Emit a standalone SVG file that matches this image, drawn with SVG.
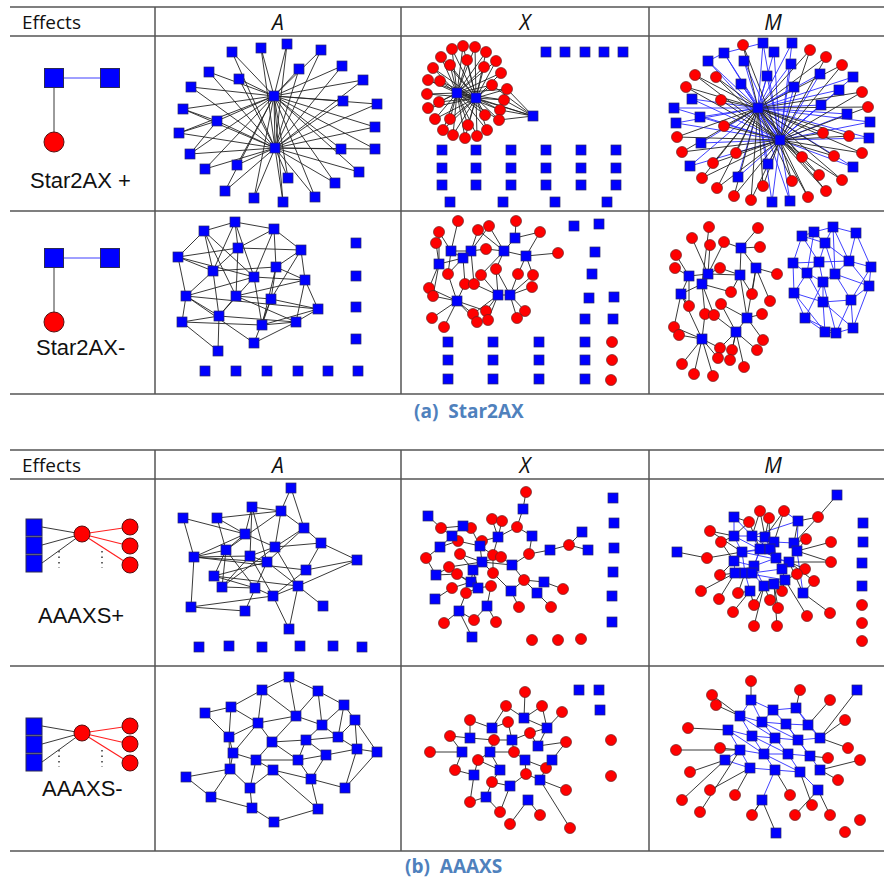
<svg xmlns="http://www.w3.org/2000/svg" width="884" height="881" viewBox="0 0 884 881">
<style>
.grid{stroke:#555;stroke-width:1.5;fill:none}
.hdr{font-family:"Open Sans","Liberation Sans",sans-serif;font-size:19px;fill:#111}
.col{font-family:"Open Sans","Liberation Sans",sans-serif;font-size:21px;font-style:italic;fill:#111}
.lbl{font-family:"Liberation Sans",Arial,sans-serif;font-size:22px;fill:#111}
.cap{font-family:"Open Sans","Liberation Sans",sans-serif;font-size:19px;font-weight:bold;fill:#4f81bd}
.k{stroke:#222;stroke-width:0.9;fill:none}
.b{stroke:#2b2bff;stroke-width:0.9;fill:none}
.r{stroke:#ff2020;stroke-width:1.2;fill:none}
.bs{fill:#0000ff;stroke:#2a2a55;stroke-width:1}
.rc{fill:#ff0000;stroke:#551111;stroke-width:1}
</style>
<defs>
<rect id="s" x="-5" y="-5" width="10" height="10" fill="#0000ff" stroke="#2a2a66" stroke-width="0.7"/>
<circle id="c" r="5.5" fill="#ff0000" stroke="#662222" stroke-width="0.7"/>
</defs>
<rect width="884" height="881" fill="#fff"/>

<g id="table-a" class="grid">
<path d="M10 7H884M10 36H884M10 211H884M10 394H884M155 7V394M401 7V394M649 7V394"/>
</g>
<g id="table-b" class="grid">
<path d="M10 450H884M10 479H884M10 666H884M10 851H884M155 450V851M401 450V851M649 450V851"/>
</g>

<g id="headers">
<text class="hdr" x="22" y="29">Effects</text>
<text class="col" x="278" y="30" text-anchor="middle">A</text>
<text class="col" x="525" y="30" text-anchor="middle">X</text>
<text class="col" x="773" y="30" text-anchor="middle">M</text>
<text class="hdr" x="22" y="472">Effects</text>
<text class="col" x="278" y="473" text-anchor="middle">A</text>
<text class="col" x="525" y="473" text-anchor="middle">X</text>
<text class="col" x="773" y="473" text-anchor="middle">M</text>
<text class="cap" x="414" y="418">(a)&#160; Star2AX</text>
<text class="cap" x="405" y="873">(b)&#160; AAAXS</text>
</g>

<g id="legend-star2ax-plus">
<path class="b" d="M54 78H110" stroke-width="1.3"/>
<path class="k" d="M54 78V142" stroke-width="1.2"/>
<rect class="bs" x="44.5" y="68.5" width="19" height="19"/>
<rect class="bs" x="100.5" y="68.5" width="19" height="19"/>
<circle class="rc" cx="54" cy="142" r="10"/>
<text class="lbl" x="30" y="188">Star2AX +</text>
</g>
<g id="legend-star2ax-minus">
<path class="b" d="M54 258H110" stroke-width="1.3"/>
<path class="k" d="M54 258V322" stroke-width="1.2"/>
<rect class="bs" x="44.5" y="248.5" width="19" height="19"/>
<rect class="bs" x="100.5" y="248.5" width="19" height="19"/>
<circle class="rc" cx="54" cy="322" r="10"/>
<text class="lbl" x="36" y="355">Star2AX-</text>
</g>
<g id="legend-aaaxs-plus">
<path class="k" d="M42 527L82 534M42 545L82 534M42 563L82 534" stroke-width="1.1"/>
<path class="r" d="M82 534L130 527M82 534L130 546M82 534L130 565"/>
<path d="M59 551V568M102 551V568" stroke="#333" stroke-width="1.5" stroke-dasharray="1.5 4"/>
<rect class="bs" x="26" y="519" width="16" height="17"/>
<rect class="bs" x="26" y="537" width="16" height="17"/>
<rect class="bs" x="26" y="555" width="16" height="17"/>
<circle class="rc" cx="82" cy="534" r="8"/>
<circle class="rc" cx="130" cy="527" r="8"/>
<circle class="rc" cx="130" cy="546" r="8"/>
<circle class="rc" cx="130" cy="565" r="8"/>
<text class="lbl" x="38" y="623">AAAXS+</text>
</g>
<g id="legend-aaaxs-minus">
<path class="k" d="M42 726L82 733M42 744L82 733M42 762L82 733" stroke-width="1.1"/>
<path class="r" d="M82 733L130 726M82 733L130 744M82 733L130 763"/>
<path d="M59 750V767M102 750V767" stroke="#333" stroke-width="1.5" stroke-dasharray="1.5 4"/>
<rect class="bs" x="26" y="718" width="16" height="17"/>
<rect class="bs" x="26" y="736" width="16" height="17"/>
<rect class="bs" x="26" y="754" width="16" height="17"/>
<circle class="rc" cx="82" cy="733" r="8"/>
<circle class="rc" cx="130" cy="726" r="8"/>
<circle class="rc" cx="130" cy="744" r="8"/>
<circle class="rc" cx="130" cy="763" r="8"/>
<text class="lbl" x="42" y="796">AAAXS-</text>
</g>

<g id="connectors">
<path class="k" d="M274 96L275 148M274 96L232 52L275 148M274 96L261 48L275 148M274 96L287 44L275 148M274 96L321 50L275 148M274 96L342 66L275 148M274 96L299 69L275 148M274 96L363 80L275 148M274 96L209 72L275 148M274 96L239 79L275 148M274 96L191 87L275 148M274 96L343 101L275 148M274 96L377 104L275 148M274 96L183 109L275 148M274 96L217 121L275 148M274 96L375 127L275 148M274 96L179 133L275 148M274 96L190 154L275 148M274 96L341 149L275 148M274 96L375 149L275 148M274 96L205 169L275 148M274 96L237 165L275 148M274 96L288 178L275 148M274 96L359 172L275 148M274 96L335 183L275 148M274 96L225 191L275 148M274 96L254 198L275 148M274 96L283 202L275 148M274 96L315 197L275 148M217 121L183 109M217 121L179 133M217 121L190 154"/>
<path class="k" d="M457 93L476 98M457 93L452 49L476 98M457 93L463 46L476 98M457 93L475 47L476 98M457 93L486 52L476 98M457 93L441 57L476 98M457 93L467 60L476 98M457 93L496 61L476 98M457 93L433 68L476 98M457 93L450 65L476 98M457 93L484 67L476 98M457 93L501 73L476 98M457 93L428 80L476 98M457 93L440 81L476 98M457 93L492 85L476 98M457 93L507 89L476 98M457 93L427 94L476 98M457 93L439 102L476 98M457 93L504 100L476 98M457 93L428 108L476 98M457 93L500 110L476 98M457 93L435 119L476 98M457 93L450 119L476 98M457 93L485 115L476 98M457 93L499 120L476 98M457 93L443 130L476 98M457 93L468 125L476 98M457 93L487 130L476 98M457 93L453 135L476 98M457 93L465 138L476 98M457 93L477 136L476 98M533 116L507 89M533 116L504 100M533 116L500 110M533 116L499 120M533 116L492 85M533 116L476 98M533 116L457 93"/>
<path class="b" d="M758 108L780 140M758 108L763 43L780 140M758 108L792 43L780 140M758 108L724 53L780 140M758 108L774 52L780 140M758 108L708 61L780 140M758 108L744 61L780 140M758 108L791 64L780 140M758 108L767 76L780 140M758 108L820 74L780 140M758 108L741 84L780 140M758 108L794 87L780 140M758 108L853 77L780 140M758 108L839 90L780 140M758 108L692 99L780 140M758 108L821 105L780 140M758 108L674 108L780 140M758 108L847 114L780 140M758 108L700 117L780 140M758 108L676 123L780 140M758 108L870 122L780 140M758 108L869 138L780 140M758 108L701 143L780 140M758 108L690 166L780 140M758 108L853 167L780 140M758 108L768 164L780 140M758 108L738 177L780 140M758 108L772 202L780 140M758 108L790 201L780 140M724 53L763 43M708 61L724 53"/>
<path class="k" d="M758 108L743 45L780 140M758 108L810 50L780 140M758 108L826 57L780 140M758 108L842 65L780 140M758 108L695 75L780 140M758 108L716 77L780 140M758 108L686 87L780 140M758 108L862 92L780 140M758 108L721 100L780 140M758 108L868 107L780 140M758 108L724 126L780 140M758 108L677 137L780 140M758 108L823 133L780 140M758 108L849 136L780 140M758 108L682 152L780 140M758 108L736 153L780 140M758 108L802 157L780 140M758 108L834 156L780 140M758 108L862 153L780 140M758 108L713 163L780 140M758 108L702 178L780 140M758 108L792 181L780 140M758 108L819 175L780 140M758 108L842 180L780 140M758 108L717 188L780 140M758 108L763 186L780 140M758 108L734 196L780 140M758 108L751 200L780 140M758 108L808 197L780 140M758 108L826 191L780 140"/>
<path class="k" d="M204 231L235 222M204 231L178 257M204 231L213 271M204 231L254 277M204 231L236 296M235 222L274 229M235 222L238 248M235 222L213 271M235 222L254 277M274 229L301 250M274 229L276 267M274 229L254 277M178 257L238 248M178 257L254 277M178 257L186 296M178 257L213 271M238 248L301 250M238 248L186 296M238 248L236 296M301 250L276 267M301 250L305 280M301 250L271 299M213 271L219 316M213 271L276 267M276 267L271 299M276 267L262 325M276 267L305 280M254 277L305 280M254 277L186 296M254 277L262 325M254 277L219 316M305 280L318 309M305 280L296 322M305 280L236 296M186 296L182 322M186 296L219 316M186 296L318 309M186 296L254 343M236 296L219 316M236 296L271 299M236 296L296 322M271 299L318 309M271 299L262 325M271 299L254 343M318 309L262 325M318 309L296 322M182 322L219 316M182 322L218 351M182 322L262 325M219 316L218 351M219 316L296 322M262 325L296 322M296 322L254 343M274 229L238 248"/>
<path class="k" d="M458 221L451 251M439 232L451 251M436 243L439 264M451 251L471 251M451 251L463 258M463 258L439 264M471 251L478 230M471 251L486 249M471 251L489 226M463 258L448 274M489 226L504 251M478 230L504 251M504 251L486 249M504 251L515 238M515 238L516 221M515 238L540 232M540 232L526 256M526 256L558 253M504 251L526 256M526 256L518 274M526 256L533 275M504 251L496 269M504 251L481 275M439 264L429 288M439 264L433 296M463 258L465 284M471 251L474 284M451 251L448 274M448 274L457 301M429 288L457 301M433 296L457 301M457 301L432 318M457 301L444 327M457 301L473 314M457 301L477 322M457 301L465 284M457 301L486 311M498 295L481 275M498 295L496 269M498 295L474 284M498 295L473 314M498 295L486 311M498 295L488 320M498 295L510 295M510 295L518 274M510 295L532 287M510 295L517 318M510 295L525 311M510 295L533 275M510 295L496 269M439 232L439 264M463 258L471 251"/>
<path class="k" d="M741 248L758 228M741 248L724 242M741 248L760 247M741 248L740 275M741 248L756 268M708 274L710 245M708 274L692 238M708 274L720 268M708 274L689 276M708 274L702 284M708 274L740 275M689 276L676 255M689 276L675 268M689 276L681 294M689 276L689 306M702 284L681 294M702 284L731 292M702 284L705 314M702 284L714 315M740 275L720 268M740 275L731 292M740 275L752 294M756 268L777 274M756 268L752 294M756 268L770 301M756 268L747 318M681 294L689 306M681 294L674 327M681 294L702 339M747 318L721 304M747 318L762 314M747 318L763 340M747 318L736 332M736 332L721 304M736 332L714 315M736 332L720 348M736 332L732 350M736 332L757 350M736 332L744 367M702 339L674 327M702 339L679 335M702 339L705 314M702 339L720 348M702 339L682 364M702 339L694 374M702 339L718 358M702 339L713 376M736 332L730 360M708 274L724 242M702 284L709 227M740 275L747 318"/>
<path class="b" d="M802 236L814 232M814 232L833 227M833 227L856 233M802 236L825 243M814 232L825 243M833 227L825 243M856 233L849 261M833 227L849 261M802 236L793 263M793 263L807 273M793 263L819 262M825 243L819 262M825 243L835 274M819 262L807 273M819 262L823 282M819 262L849 261M849 261L871 267M849 261L835 274M871 267L869 286M871 267L851 300M807 273L794 293M807 273L823 282M835 274L823 282M835 274L869 286M835 274L851 300M823 282L823 302M823 282L805 318M869 286L851 300M869 286L853 328M794 293L805 318M794 293L823 302M823 302L825 332M823 302L851 300M851 300L836 333M851 300L853 328M805 318L825 332M825 332L836 333M836 333L853 328M823 302L853 328M793 263L794 293M825 243L849 261M802 236L819 262M856 233L871 267M814 232L807 273M833 227L835 274M823 282L836 333M794 293L825 332M807 273L823 302M849 261L869 286M805 318L836 333"/>
<path class="k" d="M291 488L281 511M291 488L304 528M183 518L245 534M183 518L194 557M217 518L245 534M217 518L281 511M217 518L226 550M252 507L281 511M252 507L245 534M252 507L250 556M252 507L267 562M281 511L304 528M281 511L275 547M281 511L226 550M304 528L321 543M304 528L275 547M304 528L267 562M245 534L226 550M245 534L275 547M245 534L194 557M321 543L357 560M321 543L306 570M321 543L275 547M226 550L194 557M226 550L214 576M226 550L255 588M275 547L250 556M275 547L222 587M275 547L298 586M250 556L194 557M250 556L267 562M250 556L273 596M250 556L222 587M194 557L191 607M194 557L267 562M194 557L306 570M267 562L298 586M267 562L245 611M267 562L214 576M357 560L298 586M306 570L273 596M214 576L255 588M214 576L298 586M222 587L255 588M255 588L273 596M298 586L273 596M298 586L289 629M298 586L323 606M273 596L191 607M273 596L289 629M191 607L245 611M226 550L222 587M357 560L306 570"/>
<path class="k" d="M526 492L523 509M523 509L517 527M517 527L532 536M532 536L529 554M529 554L550 550M550 550L569 545M569 545L582 532M569 545L588 550M517 527L498 537M498 537L492 519M498 537L502 521M498 537L493 555M498 537L482 541M428 516L441 528M441 528L452 536M441 528L463 526M463 526L471 528M463 526L452 536M452 536L458 541M452 536L440 547M440 547L426 558M440 547L458 541M458 541L480 546M480 546L482 541M480 546L471 528M480 546L493 555M480 546L482 562M482 562L501 557M482 562L493 573M482 562L460 554M482 562L449 567M482 562L512 565M512 565L501 557M512 565L529 554M512 565L524 580M524 580L544 582M544 582L563 589M524 580L511 591M511 591L519 607M511 591L493 573M436 575L426 558M436 575L449 567M436 575L457 574M457 574L471 582M471 582L473 570M473 570L460 554M478 588L491 586M478 588L457 574M478 588L466 593M491 586L487 606M487 606L496 622M487 606L474 620M459 611L466 593M459 611L444 623M459 611L474 620M459 611L472 637M493 555L493 573M473 570L478 588M537 593L524 580M537 593L551 607M452 588L471 582M452 588L435 599M482 562L473 570"/>
<path class="b" d="M734 517L734 536M734 536L752 536M752 536L765 537M765 537L774 542M774 542L794 543M794 543L797 551M742 552L760 549M760 549L770 549M770 549L776 558M776 558L789 562M742 552L734 561M734 561L735 573M735 573L745 573M745 573L752 573M752 573L754 566M754 566L764 586M764 586L774 584M774 584L785 580M785 580L782 569M782 569L789 562M797 551L803 593M798 521L797 551M734 536L742 552M752 536L760 549M765 537L770 549M774 542L776 558M760 549L754 566M770 549L782 569M742 552L745 573M754 566L776 558M734 561L754 566M760 549L776 558M752 536L770 549M742 552L770 549M765 537L776 558M745 573L750 591M752 573L764 586M797 551L789 562M752 536L798 521M734 517L752 536M742 552L789 562M734 536L776 558M752 573L782 569M745 573L785 580M765 537L754 566M798 521L784 511"/>
<path class="k" d="M837 495L818 517M818 517L798 521M818 517L794 543M677 552L707 558M707 558L742 552M760 511L752 536M760 511L765 537M784 511L774 542M784 511L765 537M749 522L734 536M749 522L760 549M769 518L765 537M769 518L770 549M710 531L734 536M710 531L742 552M721 542L734 536M721 542L734 561M806 539L794 543M806 539L797 551M831 542L797 551M831 562L789 562M831 562L797 551M720 575L735 573M720 575L734 561M805 569L789 562M797 574L785 580M814 581L803 593M814 581L789 562M701 591L735 573M738 593L745 573M738 593L750 591M782 591L785 580M782 591L774 584M719 599L735 573M754 605L750 591M754 605L764 586M770 600L764 586M778 608L774 584M733 612L750 591M807 616L785 580M830 613L803 593M754 626L764 586M777 626L774 584M734 517L749 522M798 521L794 543M803 593L789 562"/>
<path class="k" d="M289 677L262 690M289 677L318 691M289 677L296 716M262 690L231 707M262 690L258 723M262 690L296 716M318 691L344 705M318 691L296 716M318 691L322 725M231 707L205 713M231 707L258 723M231 707L229 737M344 705L355 720M344 705L322 725M344 705L338 737M205 713L229 737M296 716L258 723M296 716L322 725M296 716L272 742M258 723L229 737M258 723L272 742M258 723L233 753M322 725L306 740M322 725L338 737M355 720L338 737M355 720L357 749M355 720L377 752M229 737L233 753M229 737L230 769M272 742L306 740M272 742L256 760M272 742L298 760M306 740L338 737M306 740L298 760M306 740L326 755M338 737L357 749M233 753L256 760M233 753L230 769M357 749L377 752M357 749L326 755M357 749L345 788M377 752L345 788M256 760L298 760M256 760L273 770M256 760L250 788M298 760L326 755M298 760L311 779M326 755L311 779M230 769L186 777M230 769L211 797M230 769L250 788M273 770L311 779M273 770L250 788M311 779L345 788M311 779L318 809M186 777L211 797M250 788L252 808M211 797L252 808M318 809L274 822M252 808L274 822M273 770L318 809"/>
<path class="k" d="M525 692L524 718M506 706L524 718M506 706L492 728M542 706L524 718M542 706L547 728M470 720L492 728M470 720L470 738M508 722L492 728M508 722L512 740M562 712L547 728M450 736L470 738M450 736L462 752M494 740L470 738M494 740L490 752M494 740L512 740M530 733L512 740M530 733L538 746M530 733L547 728M566 742L538 746M566 742L552 760M430 752L462 752M478 760L490 752M478 760L474 775M478 760L500 770M514 752L512 740M514 752L525 760M514 752L490 752M546 768L552 760M546 768L540 780M546 768L525 760M455 770L462 752M455 770L474 775M492 782L500 770M492 782L486 797M492 782L510 786M526 774L525 760M526 774L510 786M526 774L540 780M566 790L540 780M470 802L486 797M470 802L474 775M500 812L486 797M500 812L510 786M540 815L528 800M510 824L528 800M570 828L540 780M524 718L547 728M547 728L538 746M490 752L500 770"/>
<path class="b" d="M751 700L773 710M773 710L796 708M751 700L740 716M740 716L762 722M762 722L786 724M786 724L808 725M728 730L752 736M752 736L775 738M775 738L798 740M798 740L820 738M740 750L764 754M764 754L788 754M788 754L810 756M750 768L775 770M775 770L800 772M725 760L740 750M810 756L820 770M751 700L762 722M773 710L786 724M796 708L808 725M740 716L752 736M762 722L775 738M786 724L798 740M808 725L820 738M728 730L740 750M752 736L764 754M775 738L788 754M798 740L810 756M740 750L750 768M764 754L775 770M788 754L800 772M800 772L818 790M775 770L762 800M762 722L798 740M740 716L775 738M752 736L788 754M764 754L800 772M728 730L764 754M786 724L810 756M773 710L762 722M796 708L820 738M750 768L725 760M775 738L764 754"/>
<path class="k" d="M751 681L751 700M712 695L740 716M800 690L796 708M830 700L808 725M688 728L728 730M845 720L820 738M676 750L740 750M848 748L820 738M690 772L725 760M838 780L820 770M710 790L750 768M735 795L750 768M790 795L775 770M812 805L800 772M682 800L725 760M700 812L740 750M752 815L762 800M795 815L818 790M830 815L818 790M720 748L740 750M828 758L810 756M716 705L740 716M857 690L820 738M776 833L762 800M860 760L820 770M762 800L752 815"/>
</g>

<g id="nodes-a1">
<use href="#s" x="274" y="96"/><use href="#s" x="275" y="148"/>
<use href="#s" x="232" y="52"/><use href="#s" x="261" y="48"/><use href="#s" x="287" y="44"/><use href="#s" x="321" y="50"/><use href="#s" x="342" y="66"/><use href="#s" x="299" y="69"/><use href="#s" x="363" y="80"/><use href="#s" x="209" y="72"/><use href="#s" x="239" y="79"/><use href="#s" x="191" y="87"/><use href="#s" x="343" y="101"/><use href="#s" x="377" y="104"/><use href="#s" x="183" y="109"/><use href="#s" x="217" y="121"/><use href="#s" x="375" y="127"/><use href="#s" x="179" y="133"/><use href="#s" x="190" y="154"/><use href="#s" x="341" y="149"/><use href="#s" x="375" y="149"/><use href="#s" x="205" y="169"/><use href="#s" x="237" y="165"/><use href="#s" x="288" y="178"/><use href="#s" x="359" y="172"/><use href="#s" x="335" y="183"/><use href="#s" x="225" y="191"/><use href="#s" x="254" y="198"/><use href="#s" x="283" y="202"/><use href="#s" x="315" y="197"/>
</g>
<g id="nodes-x1">
<use href="#c" x="452" y="49"/><use href="#c" x="463" y="46"/><use href="#c" x="475" y="47"/><use href="#c" x="486" y="52"/><use href="#c" x="441" y="57"/><use href="#c" x="467" y="60"/><use href="#c" x="496" y="61"/><use href="#c" x="433" y="68"/><use href="#c" x="450" y="65"/><use href="#c" x="484" y="67"/><use href="#c" x="501" y="73"/><use href="#c" x="428" y="80"/><use href="#c" x="440" y="81"/><use href="#c" x="492" y="85"/><use href="#c" x="507" y="89"/><use href="#c" x="427" y="94"/><use href="#c" x="439" y="102"/><use href="#c" x="504" y="100"/><use href="#c" x="428" y="108"/><use href="#c" x="500" y="110"/><use href="#c" x="435" y="119"/><use href="#c" x="450" y="119"/><use href="#c" x="485" y="115"/><use href="#c" x="499" y="120"/><use href="#c" x="443" y="130"/><use href="#c" x="468" y="125"/><use href="#c" x="487" y="130"/><use href="#c" x="453" y="135"/><use href="#c" x="465" y="138"/><use href="#c" x="477" y="136"/>
<use href="#s" x="457" y="93"/><use href="#s" x="476" y="98"/><use href="#s" x="533" y="116"/>
<use href="#s" x="546" y="52"/><use href="#s" x="565" y="52"/><use href="#s" x="585" y="52"/><use href="#s" x="604" y="52"/><use href="#s" x="623" y="52"/>
<use href="#s" x="442" y="150"/><use href="#s" x="476" y="150"/><use href="#s" x="511" y="150"/><use href="#s" x="546" y="150"/><use href="#s" x="581" y="150"/><use href="#s" x="616" y="150"/>
<use href="#s" x="442" y="168"/><use href="#s" x="476" y="168"/><use href="#s" x="511" y="168"/><use href="#s" x="546" y="168"/><use href="#s" x="581" y="168"/><use href="#s" x="616" y="168"/>
<use href="#s" x="442" y="185"/><use href="#s" x="476" y="185"/><use href="#s" x="511" y="185"/><use href="#s" x="546" y="185"/><use href="#s" x="581" y="185"/><use href="#s" x="616" y="185"/>
<use href="#s" x="450" y="202"/><use href="#s" x="503" y="202"/><use href="#s" x="555" y="202"/><use href="#s" x="607" y="202"/>
</g>
<g id="nodes-m1">
<use href="#s" x="763" y="43"/><use href="#s" x="792" y="43"/><use href="#s" x="724" y="53"/><use href="#s" x="774" y="52"/><use href="#s" x="708" y="61"/><use href="#s" x="744" y="61"/><use href="#s" x="791" y="64"/><use href="#s" x="767" y="76"/><use href="#s" x="820" y="74"/><use href="#s" x="741" y="84"/><use href="#s" x="794" y="87"/><use href="#s" x="853" y="77"/><use href="#s" x="839" y="90"/><use href="#s" x="692" y="99"/><use href="#s" x="821" y="105"/><use href="#s" x="674" y="108"/><use href="#s" x="847" y="114"/><use href="#s" x="700" y="117"/><use href="#s" x="676" y="123"/><use href="#s" x="870" y="122"/><use href="#s" x="869" y="138"/><use href="#s" x="701" y="143"/><use href="#s" x="690" y="166"/><use href="#s" x="853" y="167"/><use href="#s" x="768" y="164"/><use href="#s" x="738" y="177"/><use href="#s" x="772" y="202"/><use href="#s" x="790" y="201"/>
<use href="#c" x="743" y="45"/><use href="#c" x="810" y="50"/><use href="#c" x="826" y="57"/><use href="#c" x="842" y="65"/><use href="#c" x="695" y="75"/><use href="#c" x="716" y="77"/><use href="#c" x="686" y="87"/><use href="#c" x="862" y="92"/><use href="#c" x="721" y="100"/><use href="#c" x="868" y="107"/><use href="#c" x="724" y="126"/><use href="#c" x="677" y="137"/><use href="#c" x="823" y="133"/><use href="#c" x="849" y="136"/><use href="#c" x="682" y="152"/><use href="#c" x="736" y="153"/><use href="#c" x="802" y="157"/><use href="#c" x="834" y="156"/><use href="#c" x="862" y="153"/><use href="#c" x="713" y="163"/><use href="#c" x="702" y="178"/><use href="#c" x="792" y="181"/><use href="#c" x="819" y="175"/><use href="#c" x="842" y="180"/><use href="#c" x="717" y="188"/><use href="#c" x="763" y="186"/><use href="#c" x="734" y="196"/><use href="#c" x="751" y="200"/><use href="#c" x="808" y="197"/><use href="#c" x="826" y="191"/>
<use href="#s" x="758" y="108"/><use href="#s" x="780" y="140"/>
</g>
<g id="nodes-a2">
<use href="#s" x="204" y="231"/><use href="#s" x="235" y="222"/><use href="#s" x="274" y="229"/><use href="#s" x="178" y="257"/><use href="#s" x="238" y="248"/><use href="#s" x="301" y="250"/><use href="#s" x="213" y="271"/><use href="#s" x="276" y="267"/><use href="#s" x="254" y="277"/><use href="#s" x="305" y="280"/><use href="#s" x="186" y="296"/><use href="#s" x="236" y="296"/><use href="#s" x="271" y="299"/><use href="#s" x="318" y="309"/><use href="#s" x="182" y="322"/><use href="#s" x="219" y="316"/><use href="#s" x="262" y="325"/><use href="#s" x="296" y="322"/><use href="#s" x="254" y="343"/><use href="#s" x="218" y="351"/>
<use href="#s" x="356" y="243"/><use href="#s" x="356" y="276"/><use href="#s" x="356" y="307"/><use href="#s" x="356" y="339"/>
<use href="#s" x="205" y="371"/><use href="#s" x="236" y="371"/><use href="#s" x="267" y="371"/><use href="#s" x="298" y="371"/><use href="#s" x="328" y="371"/><use href="#s" x="358" y="371"/>
</g>
<g id="nodes-x2">
<use href="#c" x="458" y="221"/><use href="#c" x="439" y="232"/><use href="#c" x="436" y="243"/><use href="#c" x="478" y="230"/><use href="#c" x="489" y="226"/><use href="#c" x="516" y="221"/><use href="#c" x="540" y="232"/><use href="#c" x="486" y="249"/><use href="#c" x="558" y="253"/><use href="#c" x="448" y="274"/><use href="#c" x="481" y="275"/><use href="#c" x="496" y="269"/><use href="#c" x="518" y="274"/><use href="#c" x="533" y="275"/><use href="#c" x="465" y="284"/><use href="#c" x="474" y="284"/><use href="#c" x="532" y="287"/><use href="#c" x="429" y="288"/><use href="#c" x="433" y="296"/><use href="#c" x="473" y="314"/><use href="#c" x="486" y="311"/><use href="#c" x="525" y="311"/><use href="#c" x="432" y="318"/><use href="#c" x="477" y="322"/><use href="#c" x="488" y="320"/><use href="#c" x="517" y="318"/><use href="#c" x="444" y="327"/>
<use href="#s" x="451" y="251"/><use href="#s" x="471" y="251"/><use href="#s" x="463" y="258"/><use href="#s" x="439" y="264"/><use href="#s" x="504" y="251"/><use href="#s" x="515" y="238"/><use href="#s" x="526" y="256"/><use href="#s" x="457" y="301"/><use href="#s" x="498" y="295"/><use href="#s" x="510" y="295"/>
<use href="#s" x="574" y="226"/><use href="#s" x="599" y="224"/><use href="#s" x="595" y="252"/><use href="#s" x="592" y="274"/><use href="#s" x="589" y="298"/><use href="#s" x="614" y="297"/><use href="#s" x="585" y="319"/><use href="#s" x="613" y="319"/>
<use href="#s" x="448" y="342"/><use href="#s" x="493" y="342"/><use href="#s" x="539" y="342"/><use href="#s" x="585" y="342"/>
<use href="#s" x="448" y="360"/><use href="#s" x="493" y="360"/><use href="#s" x="539" y="360"/><use href="#s" x="585" y="360"/>
<use href="#s" x="448" y="379"/><use href="#s" x="493" y="379"/><use href="#s" x="539" y="379"/><use href="#s" x="585" y="379"/>
<use href="#c" x="612" y="342"/><use href="#c" x="612" y="360"/><use href="#c" x="611" y="380"/>
</g>
<g id="nodes-m2">
<use href="#c" x="709" y="227"/><use href="#c" x="758" y="228"/><use href="#c" x="692" y="238"/><use href="#c" x="724" y="242"/><use href="#c" x="710" y="245"/><use href="#c" x="760" y="247"/><use href="#c" x="676" y="255"/><use href="#c" x="675" y="268"/><use href="#c" x="720" y="268"/><use href="#c" x="777" y="274"/><use href="#c" x="731" y="292"/><use href="#c" x="752" y="294"/><use href="#c" x="770" y="301"/><use href="#c" x="689" y="306"/><use href="#c" x="721" y="304"/><use href="#c" x="705" y="314"/><use href="#c" x="714" y="315"/><use href="#c" x="762" y="314"/><use href="#c" x="674" y="327"/><use href="#c" x="679" y="335"/><use href="#c" x="763" y="340"/><use href="#c" x="720" y="348"/><use href="#c" x="732" y="350"/><use href="#c" x="757" y="350"/><use href="#c" x="718" y="358"/><use href="#c" x="730" y="360"/><use href="#c" x="682" y="364"/><use href="#c" x="744" y="367"/><use href="#c" x="694" y="374"/><use href="#c" x="713" y="376"/>
<use href="#s" x="741" y="248"/><use href="#s" x="756" y="268"/><use href="#s" x="689" y="276"/><use href="#s" x="708" y="274"/><use href="#s" x="740" y="275"/><use href="#s" x="702" y="284"/><use href="#s" x="681" y="294"/><use href="#s" x="747" y="318"/><use href="#s" x="736" y="332"/><use href="#s" x="702" y="339"/>
<use href="#s" x="802" y="236"/><use href="#s" x="814" y="232"/><use href="#s" x="833" y="227"/><use href="#s" x="856" y="233"/><use href="#s" x="825" y="243"/><use href="#s" x="793" y="263"/><use href="#s" x="819" y="262"/><use href="#s" x="849" y="261"/><use href="#s" x="871" y="267"/><use href="#s" x="807" y="273"/><use href="#s" x="835" y="274"/><use href="#s" x="823" y="282"/><use href="#s" x="869" y="286"/><use href="#s" x="794" y="293"/><use href="#s" x="823" y="302"/><use href="#s" x="851" y="300"/><use href="#s" x="805" y="318"/><use href="#s" x="825" y="332"/><use href="#s" x="836" y="333"/><use href="#s" x="853" y="328"/>
</g>
<g id="nodes-a3">
<use href="#s" x="291" y="488"/><use href="#s" x="183" y="518"/><use href="#s" x="217" y="518"/><use href="#s" x="252" y="507"/><use href="#s" x="281" y="511"/><use href="#s" x="304" y="528"/><use href="#s" x="245" y="534"/><use href="#s" x="321" y="543"/><use href="#s" x="226" y="550"/><use href="#s" x="275" y="547"/><use href="#s" x="250" y="556"/><use href="#s" x="194" y="557"/><use href="#s" x="267" y="562"/><use href="#s" x="357" y="560"/><use href="#s" x="306" y="570"/><use href="#s" x="214" y="576"/><use href="#s" x="222" y="587"/><use href="#s" x="255" y="588"/><use href="#s" x="298" y="586"/><use href="#s" x="273" y="596"/><use href="#s" x="191" y="607"/><use href="#s" x="245" y="611"/><use href="#s" x="323" y="606"/><use href="#s" x="289" y="629"/>
<use href="#s" x="199" y="647"/><use href="#s" x="229" y="646"/><use href="#s" x="262" y="647"/><use href="#s" x="300" y="646"/><use href="#s" x="333" y="646"/><use href="#s" x="362" y="647"/>
</g>
<g id="nodes-x3">
<use href="#c" x="526" y="492"/><use href="#c" x="441" y="528"/><use href="#c" x="471" y="528"/><use href="#c" x="492" y="519"/><use href="#c" x="502" y="521"/><use href="#c" x="517" y="527"/><use href="#c" x="458" y="541"/><use href="#c" x="482" y="541"/><use href="#c" x="460" y="554"/><use href="#c" x="493" y="555"/><use href="#c" x="501" y="557"/><use href="#c" x="529" y="554"/><use href="#c" x="569" y="545"/><use href="#c" x="426" y="558"/><use href="#c" x="449" y="567"/><use href="#c" x="457" y="574"/><use href="#c" x="493" y="573"/><use href="#c" x="524" y="580"/><use href="#c" x="452" y="588"/><use href="#c" x="491" y="586"/><use href="#c" x="466" y="593"/><use href="#c" x="563" y="589"/><use href="#c" x="519" y="607"/><use href="#c" x="551" y="607"/><use href="#c" x="444" y="623"/><use href="#c" x="474" y="620"/><use href="#c" x="496" y="622"/>
<use href="#s" x="428" y="516"/><use href="#s" x="463" y="526"/><use href="#s" x="452" y="536"/><use href="#s" x="440" y="547"/><use href="#s" x="523" y="509"/><use href="#s" x="498" y="537"/><use href="#s" x="532" y="536"/><use href="#s" x="480" y="546"/><use href="#s" x="550" y="550"/><use href="#s" x="582" y="532"/><use href="#s" x="588" y="550"/><use href="#s" x="482" y="562"/><use href="#s" x="512" y="565"/><use href="#s" x="436" y="575"/><use href="#s" x="473" y="570"/><use href="#s" x="471" y="582"/><use href="#s" x="478" y="588"/><use href="#s" x="544" y="582"/><use href="#s" x="511" y="591"/><use href="#s" x="537" y="593"/><use href="#s" x="435" y="599"/><use href="#s" x="487" y="606"/><use href="#s" x="459" y="611"/><use href="#s" x="472" y="637"/>
<use href="#c" x="532" y="640"/><use href="#c" x="558" y="640"/><use href="#c" x="581" y="639"/>
<use href="#s" x="613" y="498"/><use href="#s" x="614" y="523"/><use href="#s" x="614" y="548"/><use href="#s" x="613" y="572"/><use href="#s" x="612" y="596"/><use href="#s" x="612" y="622"/>
</g>
<g id="nodes-m3">
<use href="#c" x="760" y="511"/><use href="#c" x="784" y="511"/><use href="#c" x="749" y="522"/><use href="#c" x="769" y="518"/><use href="#c" x="818" y="517"/><use href="#c" x="710" y="531"/><use href="#c" x="721" y="542"/><use href="#c" x="806" y="539"/><use href="#c" x="831" y="542"/><use href="#c" x="707" y="558"/><use href="#c" x="831" y="562"/><use href="#c" x="720" y="575"/><use href="#c" x="805" y="569"/><use href="#c" x="797" y="574"/><use href="#c" x="814" y="581"/><use href="#c" x="701" y="591"/><use href="#c" x="738" y="593"/><use href="#c" x="782" y="591"/><use href="#c" x="719" y="599"/><use href="#c" x="754" y="605"/><use href="#c" x="770" y="600"/><use href="#c" x="778" y="608"/><use href="#c" x="733" y="612"/><use href="#c" x="807" y="616"/><use href="#c" x="830" y="613"/><use href="#c" x="754" y="626"/><use href="#c" x="777" y="626"/>
<use href="#s" x="837" y="495"/><use href="#s" x="734" y="517"/><use href="#s" x="798" y="521"/><use href="#s" x="734" y="536"/><use href="#s" x="752" y="536"/><use href="#s" x="765" y="537"/><use href="#s" x="774" y="542"/><use href="#s" x="794" y="543"/><use href="#s" x="742" y="552"/><use href="#s" x="760" y="549"/><use href="#s" x="770" y="549"/><use href="#s" x="797" y="551"/><use href="#s" x="677" y="552"/><use href="#s" x="734" y="561"/><use href="#s" x="776" y="558"/><use href="#s" x="789" y="562"/><use href="#s" x="754" y="566"/><use href="#s" x="745" y="573"/><use href="#s" x="735" y="573"/><use href="#s" x="752" y="573"/><use href="#s" x="782" y="569"/><use href="#s" x="785" y="580"/><use href="#s" x="764" y="586"/><use href="#s" x="774" y="584"/><use href="#s" x="750" y="591"/><use href="#s" x="803" y="593"/>
<use href="#s" x="863" y="523"/><use href="#s" x="863" y="542"/><use href="#s" x="862" y="563"/><use href="#s" x="862" y="586"/>
<use href="#c" x="862" y="605"/><use href="#c" x="862" y="623"/><use href="#c" x="862" y="641"/>
</g>
<g id="nodes-a4">
<use href="#s" x="289" y="677"/><use href="#s" x="262" y="690"/><use href="#s" x="318" y="691"/><use href="#s" x="231" y="707"/><use href="#s" x="344" y="705"/><use href="#s" x="205" y="713"/><use href="#s" x="296" y="716"/><use href="#s" x="258" y="723"/><use href="#s" x="322" y="725"/><use href="#s" x="355" y="720"/><use href="#s" x="229" y="737"/><use href="#s" x="272" y="742"/><use href="#s" x="306" y="740"/><use href="#s" x="338" y="737"/><use href="#s" x="233" y="753"/><use href="#s" x="357" y="749"/><use href="#s" x="377" y="752"/><use href="#s" x="256" y="760"/><use href="#s" x="298" y="760"/><use href="#s" x="326" y="755"/><use href="#s" x="230" y="769"/><use href="#s" x="273" y="770"/><use href="#s" x="311" y="779"/><use href="#s" x="186" y="777"/><use href="#s" x="250" y="788"/><use href="#s" x="345" y="788"/><use href="#s" x="211" y="797"/><use href="#s" x="318" y="809"/><use href="#s" x="252" y="808"/><use href="#s" x="274" y="822"/>
</g>
<g id="nodes-x4">
<use href="#c" x="525" y="692"/><use href="#c" x="506" y="706"/><use href="#c" x="542" y="706"/><use href="#c" x="470" y="720"/><use href="#c" x="508" y="722"/><use href="#c" x="562" y="712"/><use href="#c" x="450" y="736"/><use href="#c" x="494" y="740"/><use href="#c" x="530" y="733"/><use href="#c" x="566" y="742"/><use href="#c" x="430" y="752"/><use href="#c" x="478" y="760"/><use href="#c" x="514" y="752"/><use href="#c" x="546" y="768"/><use href="#c" x="455" y="770"/><use href="#c" x="492" y="782"/><use href="#c" x="526" y="774"/><use href="#c" x="566" y="790"/><use href="#c" x="470" y="802"/><use href="#c" x="500" y="812"/><use href="#c" x="540" y="815"/><use href="#c" x="510" y="824"/><use href="#c" x="570" y="828"/><use href="#c" x="611" y="740"/><use href="#c" x="611" y="776"/>
<use href="#s" x="579" y="690"/><use href="#s" x="599" y="690"/><use href="#s" x="600" y="710"/>
<use href="#s" x="524" y="718"/><use href="#s" x="492" y="728"/><use href="#s" x="547" y="728"/><use href="#s" x="470" y="738"/><use href="#s" x="512" y="740"/><use href="#s" x="538" y="746"/><use href="#s" x="462" y="752"/><use href="#s" x="490" y="752"/><use href="#s" x="525" y="760"/><use href="#s" x="552" y="760"/><use href="#s" x="500" y="770"/><use href="#s" x="474" y="775"/><use href="#s" x="540" y="780"/><use href="#s" x="510" y="786"/><use href="#s" x="486" y="797"/><use href="#s" x="528" y="800"/>
</g>
<g id="nodes-m4">
<use href="#c" x="751" y="681"/><use href="#c" x="712" y="695"/><use href="#c" x="800" y="690"/><use href="#c" x="830" y="700"/><use href="#c" x="688" y="728"/><use href="#c" x="845" y="720"/><use href="#c" x="676" y="750"/><use href="#c" x="848" y="748"/><use href="#c" x="690" y="772"/><use href="#c" x="838" y="780"/><use href="#c" x="710" y="790"/><use href="#c" x="735" y="795"/><use href="#c" x="790" y="795"/><use href="#c" x="812" y="805"/><use href="#c" x="682" y="800"/><use href="#c" x="700" y="812"/><use href="#c" x="752" y="815"/><use href="#c" x="795" y="815"/><use href="#c" x="830" y="815"/><use href="#c" x="845" y="832"/><use href="#c" x="860" y="820"/><use href="#c" x="720" y="748"/><use href="#c" x="828" y="758"/><use href="#c" x="716" y="705"/><use href="#c" x="860" y="760"/>
<use href="#s" x="751" y="700"/><use href="#s" x="773" y="710"/><use href="#s" x="796" y="708"/><use href="#s" x="740" y="716"/><use href="#s" x="762" y="722"/><use href="#s" x="786" y="724"/><use href="#s" x="808" y="725"/><use href="#s" x="728" y="730"/><use href="#s" x="752" y="736"/><use href="#s" x="775" y="738"/><use href="#s" x="798" y="740"/><use href="#s" x="820" y="738"/><use href="#s" x="740" y="750"/><use href="#s" x="764" y="754"/><use href="#s" x="788" y="754"/><use href="#s" x="810" y="756"/><use href="#s" x="750" y="768"/><use href="#s" x="775" y="770"/><use href="#s" x="800" y="772"/><use href="#s" x="725" y="760"/><use href="#s" x="820" y="770"/><use href="#s" x="857" y="690"/><use href="#s" x="776" y="833"/><use href="#s" x="762" y="800"/><use href="#s" x="818" y="790"/>
</g>
</svg>
